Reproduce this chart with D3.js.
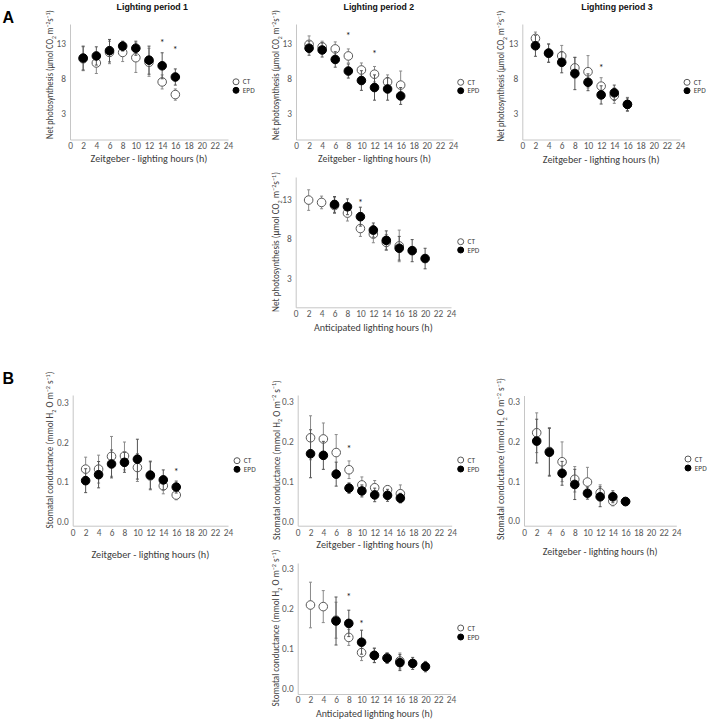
<!DOCTYPE html>
<html><head><meta charset="utf-8">
<script src="https://cdn.jsdelivr.net/npm/d3@7"></script>
<style>body{margin:0;background:#fff}svg{display:block}</style>
</head><body>
<svg id="chart" width="709" height="720"></svg>
<script>
// ---------- DATA ----------
const hours = [2, 4, 6, 8, 10, 12, 14, 16];
const hoursAnticipatedCT = [2, 4, 6, 8, 10, 12, 14, 16];
const hoursAnticipatedEPD = [6, 8, 10, 12, 14, 16, 18, 20];
const xTickValues = [0, 2, 4, 6, 8, 10, 12, 14, 16, 18, 20, 22, 24];
const yTicksPhoto = [3, 8, 13];
const yTicksCond = [0.0, 0.1, 0.2, 0.3];
const seriesNames = ["CT", "EPD"];
const periodTitles = ["Lighting period 1", "Lighting period 2", "Lighting period 3"];

// A: Net photosynthesis
const a1CT = [10.8, 10.2, 11.7, 11.7, 10.95, 10.3, 7.5, 5.7];
const a1CTErr = [1.7, 1.5, 1.6, 1.3, 2.1, 2.0, 1.0, 0.8];
const a1EPD = [10.9, 11.2, 11.95, 12.6, 12.3, 10.6, 9.8, 8.2];
const a1EPDErr = [1.7, 1.3, 1.6, 0.7, 1.0, 2.0, 1.85, 1.15];
const a1StarHours = [14, 16];
const a1StarValues = [13.4, 12.4];

const a2CT = [12.85, 12.5, 12.2, 11.2, 9.2, 8.6, 7.5, 7.05];
const a2CTErr = [1.2, 0.8, 1.0, 1.0, 1.0, 1.1, 1.0, 2.0];
const a2EPD = [12.3, 12.05, 10.7, 9.05, 7.7, 6.7, 6.5, 5.5];
const a2EPDErr = [1.0, 1.0, 1.1, 1.0, 1.4, 1.8, 1.6, 1.2];
const a2StarHours = [8, 12];
const a2StarValues = [14.4, 11.9];

const a3CT = [13.7, 11.6, 11.2, 9.5, 8.95, 6.9, 5.55, 4.3];
const a3CTErr = [0.9, 1.3, 1.5, 1.5, 2.3, 1.2, 1.1, 1.0];
const a3EPD = [12.65, 11.6, 10.3, 8.7, 7.45, 5.65, 5.95, 4.3];
const a3EPDErr = [1.5, 1.3, 1.5, 2.3, 1.2, 1.3, 1.1, 0.9];
const a3StarHours = [12];
const a3StarValues = [9.9];

const a4CT = [12.9, 12.6, 12.2, 11.25, 9.3, 8.6, 7.55, 7.1];
const a4CTErr = [1.3, 0.8, 1.0, 1.0, 1.0, 1.1, 1.0, 2.0];
const a4EPD = [12.35, 12.05, 10.8, 9.1, 7.8, 6.8, 6.5, 5.5];
const a4EPDErr = [1.0, 1.0, 1.2, 0.9, 1.2, 1.5, 1.4, 1.3];
const a4StarHours = [10];
const a4StarValues = [12.9];

// B: Stomatal conductance
const b1CT = [0.132, 0.132, 0.164, 0.165, 0.136, 0.115, 0.09, 0.067];
const b1CTErr = [0.03, 0.035, 0.05, 0.035, 0.035, 0.035, 0.02, 0.012];
const b1EPD = [0.103, 0.118, 0.145, 0.149, 0.157, 0.117, 0.105, 0.087];
const b1EPDErr = [0.03, 0.033, 0.035, 0.025, 0.05, 0.035, 0.025, 0.015];
const b1StarHours = [16];
const b1StarValues = [0.13];

const b2CT = [0.209, 0.206, 0.172, 0.129, 0.091, 0.084, 0.079, 0.069];
const b2CTErr = [0.055, 0.04, 0.045, 0.022, 0.02, 0.018, 0.01, 0.022];
const b2EPD = [0.169, 0.165, 0.118, 0.083, 0.076, 0.066, 0.065, 0.058];
const b2EPDErr = [0.06, 0.035, 0.03, 0.013, 0.015, 0.017, 0.015, 0.012];
const b2StarHours = [8];
const b2StarValues = [0.186];

const b3CT = [0.222, 0.175, 0.149, 0.105, 0.098, 0.071, 0.05, 0.049];
const b3CTErr = [0.05, 0.06, 0.05, 0.032, 0.037, 0.02, 0.012, 0.008];
const b3EPD = [0.201, 0.173, 0.12, 0.092, 0.07, 0.061, 0.061, 0.049];
const b3EPDErr = [0.055, 0.06, 0.03, 0.038, 0.015, 0.025, 0.015, 0.008];
const b3StarHours = [];
const b3StarValues = [];

const b4CT = [0.21, 0.206, 0.172, 0.129, 0.091, 0.084, 0.078, 0.07];
const b4CTErr = [0.057, 0.04, 0.045, 0.02, 0.02, 0.018, 0.012, 0.02];
const b4EPD = [0.17, 0.164, 0.117, 0.084, 0.077, 0.066, 0.064, 0.056];
const b4EPDErr = [0.06, 0.033, 0.03, 0.018, 0.013, 0.02, 0.015, 0.013];
const b4StarHours = [8, 10];
const b4StarValues = [0.2375, 0.168];

const titleZeit = "Zeitgeber - lighting hours (h)";
const titleAnt = "Anticipated lighting hours (h)";
const yTitlePhoto = [["Net photosynthesis (µmol CO", ""], ["2", "sub"], [" m", ""], ["−2", "sup"], ["s", ""], ["−1", "sup"], [")", ""]];
const yTitleCond = [["Stomatal conductance (mmol H", ""], ["2", "sub"], [" O m", ""], ["−2", "sup"], [" s", ""], ["−1", "sup"], [")", ""]];

// ---------- LAYOUT ----------
const FONT = "Carlito, Lato, 'Liberation Sans', sans-serif";
const svg = d3.select("#chart");
const photoDom = [-0.7, 15.75];
const condDom = [-0.011, 0.316];

const panels = [
  {ct: a1CT, ctE: a1CTErr, epd: a1EPD, epdE: a1EPDErr, ctX: hours, epdX: hours, sH: a1StarHours, sV: a1StarValues,
   x0: 70, x1: 228, yb: 139.5, yt: 24, dom: photoDom, ticks: yTicksPhoto, fmt: d3.format("d"), xPad: 3,
   yT: yTitlePhoto, yTx: 50, yTy: 74.5, yTlen: 129, xT: titleZeit, xTy: 158, xTlen: 117,
   leg: [236, 81.8, 90.3], title: periodTitles[0], titleX: 152.3, titleLen: 72},
  {ct: a2CT, ctE: a2CTErr, epd: a2EPD, epdE: a2EPDErr, ctX: hours, epdX: hours, sH: a2StarHours, sV: a2StarValues,
   x0: 296, x1: 453, yb: 139.5, yt: 24, dom: photoDom, ticks: yTicksPhoto, fmt: d3.format("d"), xPad: 3,
   yT: yTitlePhoto, yTx: 276, yTy: 75, yTlen: 130, xT: titleZeit, xTy: 158, xTlen: 113,
   leg: [460.7, 82.3, 90.7], title: periodTitles[1], titleX: 378.8, titleLen: 71},
  {ct: a3CT, ctE: a3CTErr, epd: a3EPD, epdE: a3EPDErr, ctX: hours, epdX: hours, sH: a3StarHours, sV: a3StarValues,
   x0: 522.3, x1: 680, yb: 139.5, yt: 24, dom: photoDom, ticks: yTicksPhoto, fmt: d3.format("d"), xPad: 3,
   yT: yTitlePhoto, yTx: 501, yTy: 76, yTlen: 131, xT: titleZeit, xTy: 159, xTlen: 117,
   leg: [687, 82.3, 90.7], title: periodTitles[2], titleX: 617, titleLen: 72},
  {ct: a4CT, ctE: a4CTErr, epd: a4EPD, epdE: a4EPDErr, ctX: hoursAnticipatedCT, epdX: hoursAnticipatedEPD, sH: a4StarHours, sV: a4StarValues,
   x0: 295.7, x1: 451, yb: 307.3, yt: 177, dom: [-0.67, 15.82], ticks: yTicksPhoto, fmt: d3.format("d"), xPad: 3.3,
   yT: yTitlePhoto, yTx: 276, yTy: 242, yTlen: 140, xT: titleAnt, xTy: 326.7, xTlen: 119,
   leg: [460.7, 241.7, 250]},
  {ct: b1CT, ctE: b1CTErr, epd: b1EPD, epdE: b1EPDErr, ctX: hours, epdX: hours, sH: b1StarHours, sV: b1StarValues,
   x0: 72.7, x1: 228, yb: 525.7, yt: 395, dom: [-0.01, 0.318], ticks: yTicksCond, fmt: d3.format(".1f"), xPad: 3.6,
   yT: yTitleCond, yTx: 50, yTy: 450, yTlen: 157, xT: titleZeit, xTy: 554, xTlen: 118,
   leg: [237, 460.7, 469.3]},
  {ct: b2CT, ctE: b2CTErr, epd: b2EPD, epdE: b2EPDErr, ctX: hours, epdX: hours, sH: b2StarHours, sV: b2StarValues,
   x0: 297.7, x1: 451.7, yb: 525.7, yt: 395, dom: condDom, ticks: yTicksCond, fmt: d3.format(".1f"), xPad: 3.6,
   yT: yTitleCond, yTx: 276.3, yTy: 460, yTlen: 160, xT: titleZeit, xTy: 544, xTlen: 117,
   leg: [460.7, 460, 469]},
  {ct: b3CT, ctE: b3CTErr, epd: b3EPD, epdE: b3EPDErr, ctX: hours, epdX: hours, sH: b3StarHours, sV: b3StarValues,
   x0: 524, x1: 676.3, yb: 525.7, yt: 395.5, dom: [-0.0118, 0.3157], ticks: yTicksCond, fmt: d3.format(".1f"), xPad: 3.6,
   yT: yTitleCond, yTx: 501, yTy: 459, yTlen: 162, xT: titleZeit, xTy: 550.7, xTlen: 115,
   leg: [688, 459, 468]},
  {ct: b4CT, ctE: b4CTErr, epd: b4EPD, epdE: b4EPDErr, ctX: hoursAnticipatedCT, epdX: hoursAnticipatedEPD, sH: b4StarHours, sV: b4StarValues,
   x0: 297.7, x1: 451, yb: 694, yt: 563, dom: [-0.0125, 0.315], ticks: yTicksCond, fmt: d3.format(".1f"), xPad: 2.5,
   yT: yTitleCond, yTx: 276, yTy: 628, yTlen: 157, xT: titleAnt, xTy: 713.3, xTlen: 117,
   leg: [460.7, 628, 637]}
];

function fit(textSel, target) {
  const w = textSel.node().getBBox().width;
  if (w > 0) textSel.attr("transform", `scale(${target / w},1)`);
}

function richText(sel, parts, fs) {
  let shift = 0;
  parts.forEach(([t, kind]) => {
    const target = kind === "sub" ? fs * 0.28 : kind === "sup" ? -fs * 0.38 : 0;
    const ts = sel.append("tspan").text(t).attr("dy", target - shift);
    if (kind) ts.attr("font-size", fs * 0.68);
    shift = target;
  });
}

function drawPanel(p) {
  const x = d3.scaleLinear().domain([0, 24]).range([p.x0, p.x1]);
  const y = d3.scaleLinear().domain(p.dom).range([p.yb, p.yt]);
  const g = svg.append("g");

  const xa = g.append("g").attr("transform", `translate(0,${p.yb})`)
    .call(d3.axisBottom(x).tickValues(xTickValues).tickSize(0).tickPadding(p.xPad).tickFormat(d3.format("d")));
  const ya = g.append("g").attr("transform", `translate(${p.x0},0)`)
    .call(d3.axisLeft(y).tickValues(p.ticks).tickSize(0).tickPadding(4).tickFormat(p.fmt));
  [xa, ya].forEach(a => {
    a.select(".domain").attr("stroke", "#c6c6c6").attr("stroke-width", 1);
    a.selectAll("text").attr("font-family", FONT).attr("font-size", 9.3).attr("fill", "#595959");
  });

  // axis titles
  const xtg = g.append("g").attr("transform", `translate(${(p.x0 + p.x1) / 2},${p.xTy})`);
  const xt = xtg.append("text").attr("x", 0).attr("y", 0).attr("dy", "0.35em")
    .attr("text-anchor", "middle").attr("font-family", FONT).attr("font-size", 11).attr("fill", "#404040")
    .text(p.xT);
  fit(xt, p.xTlen);

  const ytg = g.append("g").attr("transform", `translate(${p.yTx + 3.4},${p.yTy}) rotate(-90)`);
  const yt = ytg.append("text").attr("text-anchor", "middle").attr("font-family", FONT)
    .attr("font-size", 9.8).attr("fill", "#404040");
  richText(yt, p.yT, 9.8);
  fit(yt, p.yTlen);

  // series: CT then EPD
  const series = [
    {vals: p.ct, err: p.ctE, xs: p.ctX, fill: "#ffffff", stroke: "#595959", bar: "#8a8a8a"},
    {vals: p.epd, err: p.epdE, xs: p.epdX, fill: "#000000", stroke: "#000000", bar: "#555555"}
  ];
  series.forEach(s => {
    const d = s.vals.map((v, i) => ({h: s.xs[i], v, e: s.err[i]}));
    const eb = g.append("g").attr("stroke", s.bar).attr("stroke-width", 1);
    eb.selectAll("line.v").data(d).join("line").attr("class", "v")
      .attr("x1", q => x(q.h)).attr("x2", q => x(q.h))
      .attr("y1", q => y(q.v - q.e)).attr("y2", q => y(q.v + q.e));
    eb.selectAll("line.t").data(d).join("line").attr("class", "t")
      .attr("x1", q => x(q.h) - 1.5).attr("x2", q => x(q.h) + 1.5)
      .attr("y1", q => y(q.v + q.e)).attr("y2", q => y(q.v + q.e));
    eb.selectAll("line.b").data(d).join("line").attr("class", "b")
      .attr("x1", q => x(q.h) - 1.5).attr("x2", q => x(q.h) + 1.5)
      .attr("y1", q => y(q.v - q.e)).attr("y2", q => y(q.v - q.e));
    g.append("g").selectAll("circle").data(d).join("circle")
      .attr("cx", q => x(q.h)).attr("cy", q => y(q.v)).attr("r", 4.3)
      .attr("fill", s.fill).attr("stroke", s.stroke).attr("stroke-width", 1);
  });

  // significance stars
  g.append("g").selectAll("text").data(p.sH.map((h, i) => ({h, v: p.sV[i]}))).join("text")
    .attr("x", q => x(q.h)).attr("y", q => y(q.v)).attr("dy", "0.55em")
    .attr("text-anchor", "middle").attr("font-family", FONT).attr("font-size", 10).attr("fill", "#222")
    .text("*");

  // legend
  const [lx, ly1, ly2] = p.leg;
  const lg = g.append("g");
  [[ly1, "#fff", "#595959"], [ly2, "#000", "#000"]].forEach(([ly, f, st], i) => {
    lg.append("circle").attr("cx", lx).attr("cy", ly).attr("r", 3).attr("fill", f).attr("stroke", st);
    lg.append("text").attr("x", lx + 6.8).attr("y", ly).attr("dy", "0.35em")
      .attr("font-family", FONT).attr("font-size", 7.3).attr("fill", "#404040").text(seriesNames[i]);
  });

  // period title
  if (p.title) {
    const tg = g.append("g").attr("transform", `translate(${p.titleX},10)`);
    const tt = tg.append("text").attr("text-anchor", "middle")
      .attr("font-family", "'Liberation Sans', Arial, sans-serif").attr("font-weight", "bold")
      .attr("font-size", 9.8).attr("fill", "#111").text(p.title);
    fit(tt, p.titleLen);
  }
}

panels.forEach(drawPanel);

// panel letters
svg.append("text").attr("x", 2.5).attr("y", 23.3).attr("font-family", "'Liberation Sans', Arial, sans-serif")
  .attr("font-weight", "bold").attr("font-size", 16).text("A");
svg.append("text").attr("x", 2.5).attr("y", 384).attr("font-family", "'Liberation Sans', Arial, sans-serif")
  .attr("font-weight", "bold").attr("font-size", 16).text("B");
</script>
</body></html>
